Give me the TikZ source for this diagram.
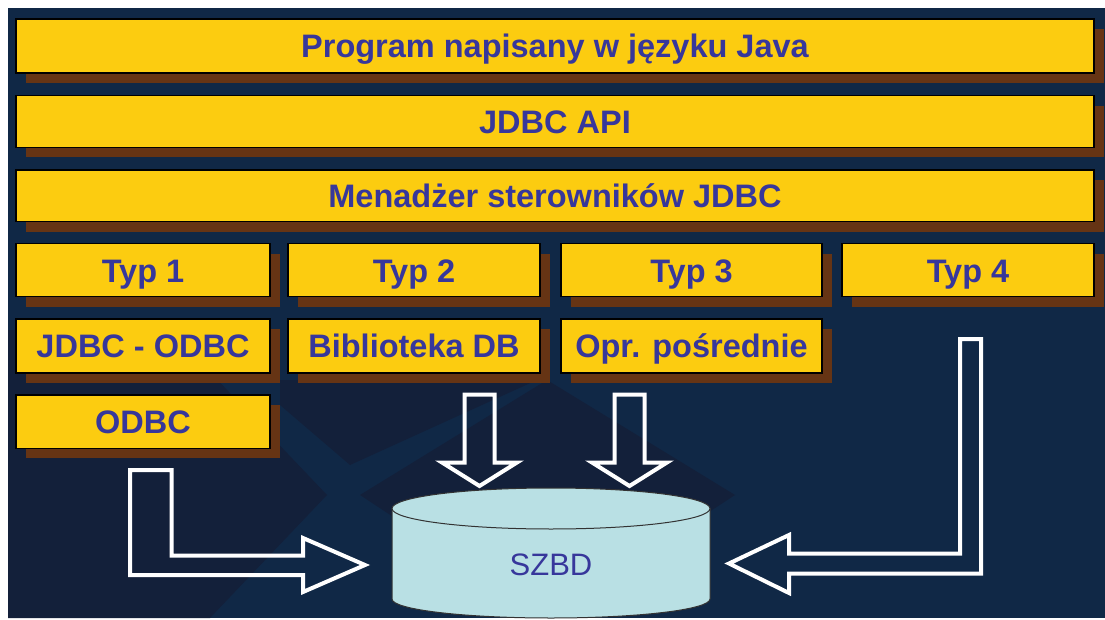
\documentclass[tikz,border=0pt]{standalone}
\usepackage{fontspec}
\setmainfont{Liberation Sans}
\usetikzlibrary{shadows}
\definecolor{navy}{RGB}{16,40,70}
\definecolor{navydark}{RGB}{19,32,58}
\definecolor{boxyellow}{RGB}{252,204,16}
\definecolor{shadowbrown}{RGB}{102,52,20}
\definecolor{textblue}{RGB}{55,55,155}
\definecolor{cylfill}{RGB}{185,224,228}
\begin{document}
\begin{tikzpicture}[x=1pt,y=-1pt,
  layerbox/.style={draw=black, line width=1.3pt, fill=boxyellow, inner sep=0pt,
    text=textblue, font=\fontsize{32.5}{36}\selectfont\bfseries,
    text height=23.5pt, text depth=0pt,
    general shadow={fill=shadowbrown, shadow xshift=10pt, shadow yshift=-10pt}},
  colbox/.style={layerbox, minimum height=53pt},
  blockarrow/.style={draw=white, line width=4pt, miter limit=20, line join=miter}
]
\useasboundingbox (0,0) rectangle (1105,620);
\fill[white] (0,0) rectangle (1105,620);
\fill[navy] (8,8) rectangle (1105,618);
% subtle background pattern
\fill[navydark] (8,330) -- (170,330) -- (327,495) -- (210,618) -- (8,618) -- cycle;
\fill[navydark] (280,380) -- (537,380) -- (350,465) -- (280,405) -- cycle;
\fill[navydark] (547,380) -- (735,495) -- (547,618) -- (360,495) -- cycle;

% full-width layers
\node[layerbox, minimum width=1078pt, minimum height=54pt] (prog) at (555,46) {Program napisany w języku Java};
\node[layerbox, minimum width=1078pt, minimum height=51.6pt] (api) at (555,121.5) {JDBC API};
\node[layerbox, minimum width=1078pt, minimum height=51.7pt] (mgr) at (555,195.8) {Menadżer sterowników JDBC};

% driver types
\node[colbox, minimum width=254pt] (typ1) at (143,270.3) {Typ 1};
\node[colbox, minimum width=252pt] (typ2) at (414,270.3) {Typ 2};
\node[colbox, minimum width=261pt] (typ3) at (691.5,270.3) {Typ 3};
\node[colbox, minimum width=252pt] (typ4) at (968,270.3) {Typ 4};

\node[colbox, minimum width=254pt, minimum height=54pt] (jo) at (143,346) {JDBC - ODBC};
\node[colbox, minimum width=252pt, minimum height=54pt] (bib) at (414,346) {Biblioteka DB};
\node[colbox, minimum width=261pt, minimum height=54pt] (opr) at (691.5,346) {Opr. pośrednie};
\node[colbox, minimum width=254pt, minimum height=53.3pt] (odbc) at (143,421.6) {ODBC};

% database cylinder
\fill[cylfill] (392,508.5) -- (392,599) arc[start angle=180, end angle=0, x radius=159, y radius=19]
  -- (710,508.5) arc[start angle=0, end angle=-180, x radius=159, y radius=20.5] -- cycle;
\draw[black!80, line width=1pt] (392,508.5) -- (392,599) arc[start angle=180, end angle=0, x radius=159, y radius=19] -- (710,508.5);
\draw[black!80, line width=1pt] (551,508.5) ellipse[x radius=159, y radius=20.5];
\node[font=\fontsize{31}{36}\selectfont, text=textblue, text height=22pt, text depth=0pt, inner sep=0pt] (szbd) at (551,564) {SZBD};

% block arrows
\draw[blockarrow] (130,470) -- (171.5,470) -- (171.5,555.5) -- (303,555.5) -- (303,538)
  -- (365,565) -- (303,592) -- (303,575) -- (130,575) -- cycle;
\draw[blockarrow] (960,339) -- (981,339) -- (981,573.5) -- (789,573.5) -- (789,593)
  -- (729,563.5) -- (789,535) -- (789,553.5) -- (960,553.5) -- cycle;
\draw[blockarrow] (464.5,394.5) -- (494.5,394.5) -- (494.5,462.5) -- (517,462.5)
  -- (479.5,486) -- (442,462.5) -- (464.5,462.5) -- cycle;
\draw[blockarrow] (614.5,394.5) -- (644.5,394.5) -- (644.5,462.5) -- (667,462.5)
  -- (629.5,486) -- (592,462.5) -- (614.5,462.5) -- cycle;
\end{tikzpicture}
\end{document}
